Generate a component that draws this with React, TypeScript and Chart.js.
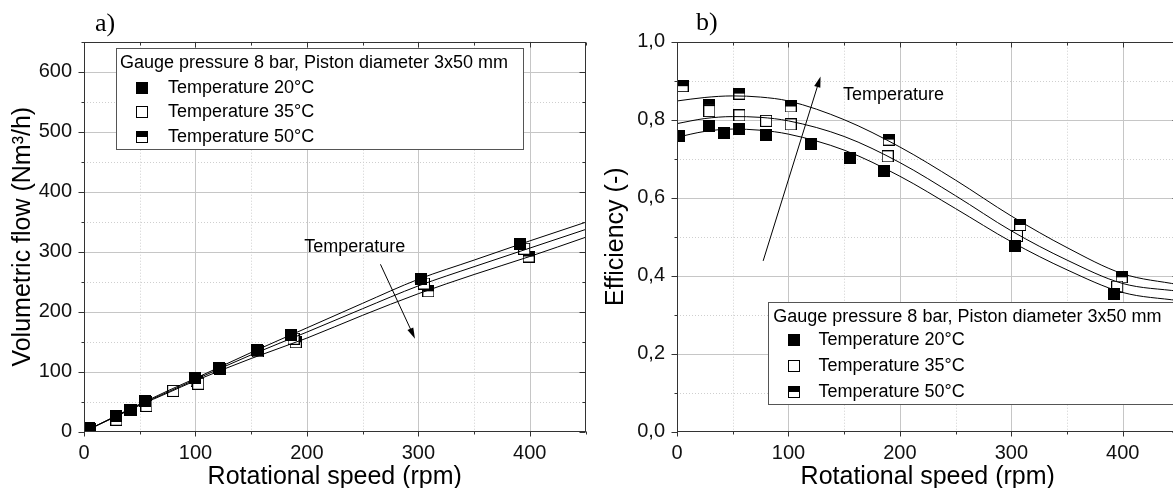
import React, { useEffect, useRef } from 'react';
import { Chart, registerables } from 'chart.js';

Chart.register(...registerables);

const SANS = 'Arial, "Liberation Sans", sans-serif';
const SERIF = '"Times New Roman", "Liberation Serif", serif';

// ---------- Panel a) Volumetric flow (Nm3/h) vs rotational speed (rpm) ----------
const flowX20 = [4.5, 28.5, 41.5, 55, 100, 121, 155, 186, 302, 391];
const flowY20 = [7, 27, 37, 51, 89, 107, 137, 162, 254, 313];
const flowX35 = [29, 56, 80, 102.5, 188, 305, 395];
const flowY35 = [20, 43, 68, 80, 155, 247, 305];
const flowX50 = [5, 42, 55.5, 101, 122, 156, 190, 309, 399];
const flowY50 = [5, 36, 49, 85, 105, 134, 149, 234, 292];

// fitted curves
const fitSpeed = [0, 25, 50, 75, 100, 150, 200, 250, 300, 350, 400, 450];
const flowFit20 = [0, 23, 46, 68, 89, 132, 173, 214, 254, 286, 318, 349];
const flowFit35 = [0, 22.5, 45, 66, 87, 128, 166, 205, 243, 275, 306, 337];
const flowFit50 = [0, 22, 44, 64.5, 85, 122, 156, 194, 230, 262, 292, 324];

// ---------- Panel b) Efficiency (-) vs rotational speed (rpm) ----------
const effX20 = [2, 29, 42, 56, 80, 120, 155, 186, 303, 392];
const effY20 = [0.757, 0.785, 0.766, 0.777, 0.76, 0.737, 0.701, 0.668, 0.476, 0.353];
const effX35 = [29, 56, 80, 102, 189, 305, 395];
const effY35 = [0.822, 0.811, 0.797, 0.788, 0.706, 0.502, 0.372];
const effX50 = [5, 29, 56, 102, 190, 308, 399];
const effY50 = [0.886, 0.838, 0.867, 0.834, 0.749, 0.53, 0.396];

const effFit20 = [0.755, 0.77, 0.776, 0.773, 0.763, 0.722, 0.655, 0.572, 0.487, 0.415, 0.357, 0.336];
const effFit35 = [0.79, 0.803, 0.808, 0.806, 0.797, 0.757, 0.69, 0.605, 0.515, 0.44, 0.38, 0.36];
const effFit50 = [0.848, 0.857, 0.861, 0.858, 0.848, 0.8, 0.73, 0.645, 0.553, 0.472, 0.405, 0.377];

const legendTitle = 'Gauge pressure 8 bar, Piston diameter 3x50 mm';
const seriesNames = ['Temperature 20°C', 'Temperature 35°C', 'Temperature 50°C'];
const arrowLabel = 'Temperature';

type Kind = 'filled' | 'open' | 'half';
const kinds: Kind[] = ['filled', 'open', 'half'];

function makeMarker(kind: Kind): HTMLCanvasElement {
  const s = 12;
  const c = document.createElement('canvas');
  c.width = s;
  c.height = s;
  const g = c.getContext('2d')!;
  g.fillStyle = '#fff';
  g.fillRect(0, 0, s, s);
  g.fillStyle = '#000';
  if (kind === 'filled') g.fillRect(0, 0, s, s);
  if (kind === 'half') g.fillRect(0, 0, s, s / 2);
  g.strokeStyle = '#000';
  g.lineWidth = 1;
  g.strokeRect(0.5, 0.5, s - 1, s - 1);
  return c;
}

interface PanelCfg {
  yMax: number;
  yStep: number;
  yMinor: number;
  yTitle: string;
  fmt: (v: number) => string;
  pts: { xs: number[]; ys: number[] }[];
  fits: number[][];
  legend: { l: number; r: number; t: number; b: number; titleX: number; titleY: number; rows: number[]; markX: number; textX: number };
  arrow: { x1: number; y1: number; x2: number; y2: number };
  label: { x: number; y: number; align: CanvasTextAlign };
  letter: { text: string; x: number; y: number };
}

function drawArrow(ctx: CanvasRenderingContext2D, x1: number, y1: number, x2: number, y2: number) {
  const ang = Math.atan2(y2 - y1, x2 - x1);
  const hl = 11;
  const hw = 3.2;
  ctx.strokeStyle = '#000';
  ctx.lineWidth = 1;
  ctx.beginPath();
  ctx.moveTo(x1, y1);
  ctx.lineTo(x2 - Math.cos(ang) * hl * 0.8, y2 - Math.sin(ang) * hl * 0.8);
  ctx.stroke();
  ctx.fillStyle = '#000';
  ctx.beginPath();
  ctx.moveTo(x2, y2);
  ctx.lineTo(x2 - Math.cos(ang) * hl - Math.sin(ang) * hw, y2 - Math.sin(ang) * hl + Math.cos(ang) * hw);
  ctx.lineTo(x2 - Math.cos(ang) * hl + Math.sin(ang) * hw, y2 - Math.sin(ang) * hl - Math.cos(ang) * hw);
  ctx.closePath();
  ctx.fill();
}

function framePlugin(cfg: PanelCfg, markers: HTMLCanvasElement[]) {
  return {
    id: 'frame',
    beforeDatasetsDraw(chart: any) {
      const { ctx, chartArea: a, scales } = chart;
      const x = scales.x;
      const y = scales.y;
      ctx.save();
      ctx.lineWidth = 1;
      // minor (dotted) grid
      ctx.strokeStyle = '#cfcfcf';
      ctx.setLineDash([1, 2]);
      for (let v = 50; v < 450; v += 100) {
        const px = Math.round(x.getPixelForValue(v)) + 0.5;
        ctx.beginPath();
        ctx.moveTo(px, a.top);
        ctx.lineTo(px, a.bottom);
        ctx.stroke();
      }
      for (let v = cfg.yMinor; v < cfg.yMax - 1e-9; v += cfg.yStep) {
        const py = Math.round(y.getPixelForValue(v)) + 0.5;
        ctx.beginPath();
        ctx.moveTo(a.left, py);
        ctx.lineTo(a.right, py);
        ctx.stroke();
      }
      // major grid
      ctx.setLineDash([]);
      ctx.strokeStyle = '#c6c6c6';
      for (let v = 100; v < 450; v += 100) {
        const px = Math.round(x.getPixelForValue(v)) + 0.5;
        ctx.beginPath();
        ctx.moveTo(px, a.top);
        ctx.lineTo(px, a.bottom);
        ctx.stroke();
      }
      for (let v = cfg.yStep; v < cfg.yMax - 1e-9; v += cfg.yStep) {
        const py = Math.round(y.getPixelForValue(v)) + 0.5;
        ctx.beginPath();
        ctx.moveTo(a.left, py);
        ctx.lineTo(a.right, py);
        ctx.stroke();
      }
      ctx.restore();
    },
    afterDatasetsDraw(chart: any) {
      const { ctx, chartArea: a, scales } = chart;
      const x = scales.x;
      const y = scales.y;
      ctx.save();
      // axes box
      ctx.strokeStyle = '#333';
      ctx.lineWidth = 1;
      const L = Math.round(a.left) + 0.5;
      const R = Math.round(a.right) - 0.5;
      const T = Math.round(a.top) + 0.5;
      const B = Math.round(a.bottom) - 0.5;
      ctx.strokeRect(L, T, R - L, B - T);
      // ticks
      ctx.beginPath();
      for (let v = 0; v <= 450; v += 50) {
        const px = Math.round(x.getPixelForValue(v)) + 0.5;
        const len = v % 100 === 0 ? 5 : 3;
        ctx.moveTo(px, B);
        ctx.lineTo(px, B + len);
        ctx.moveTo(px, T);
        ctx.lineTo(px, T + len);
      }
      const nMinor = Math.round(cfg.yMax / (cfg.yStep / 2));
      for (let i = 0; i <= nMinor; i++) {
        const v = i * (cfg.yStep / 2);
        const py = Math.round(y.getPixelForValue(v)) + 0.5;
        const len = i % 2 === 0 ? 6 : 3;
        ctx.moveTo(L - len, py);
        ctx.lineTo(L, py);
        ctx.moveTo(R - len, py);
        ctx.lineTo(R, py);
      }
      ctx.stroke();

      // arrow + label
      drawArrow(
        ctx,
        x.getPixelForValue(cfg.arrow.x1),
        y.getPixelForValue(cfg.arrow.y1),
        x.getPixelForValue(cfg.arrow.x2),
        y.getPixelForValue(cfg.arrow.y2)
      );
      ctx.fillStyle = '#000';
      ctx.font = `18px ${SANS}`;
      ctx.textAlign = cfg.label.align;
      ctx.textBaseline = 'middle';
      ctx.fillText(arrowLabel, x.getPixelForValue(cfg.label.x), y.getPixelForValue(cfg.label.y));

      // legend box
      const lg = cfg.legend;
      const bl = Math.round(x.getPixelForValue(lg.l)) + 0.5;
      const br = Math.round(x.getPixelForValue(lg.r)) + 0.5;
      const bt = Math.round(y.getPixelForValue(lg.t)) + 0.5;
      const bb = Math.round(y.getPixelForValue(lg.b)) + 0.5;
      ctx.fillStyle = '#fff';
      ctx.fillRect(bl, bt, br - bl, bb - bt);
      ctx.strokeStyle = '#555';
      ctx.strokeRect(bl, bt, br - bl, bb - bt);
      ctx.fillStyle = '#000';
      ctx.textAlign = 'left';
      ctx.textBaseline = 'middle';
      ctx.font = `18px ${SANS}`;
      ctx.fillText(legendTitle, x.getPixelForValue(lg.titleX), y.getPixelForValue(lg.titleY));
      lg.rows.forEach((rv, i) => {
        const ry = y.getPixelForValue(rv);
        const mx = x.getPixelForValue(lg.markX);
        ctx.drawImage(markers[i], Math.round(mx - 6), Math.round(ry - 6));
        ctx.fillText(seriesNames[i], x.getPixelForValue(lg.textX), ry);
      });

      // panel letter
      ctx.font = `26px ${SERIF}`;
      ctx.textBaseline = 'alphabetic';
      ctx.fillText(cfg.letter.text, cfg.letter.x, cfg.letter.y);
      ctx.restore();
    },
  };
}

function Panel({ cfg, left }: { cfg: PanelCfg; left: number }) {
  const ref = useRef<HTMLCanvasElement>(null);
  useEffect(() => {
    const markers = kinds.map(makeMarker);
    const datasets: any[] = [];
    cfg.fits.forEach((f) => {
      datasets.push({
        data: fitSpeed.map((s, i) => ({ x: s, y: f[i] })),
        showLine: true,
        borderColor: '#000',
        borderWidth: 1,
        pointRadius: 0,
        cubicInterpolationMode: 'monotone',
        fill: false,
      });
    });
    cfg.pts.forEach((p, k) => {
      datasets.push({
        data: p.xs.map((s, i) => ({ x: s, y: p.ys[i] })),
        showLine: false,
        pointStyle: markers[k],
        pointRadius: 6,
      });
    });
    const chart = new Chart(ref.current!, {
      type: 'scatter',
      data: { datasets },
      options: {
        animation: false,
        responsive: false,
        maintainAspectRatio: false,
        layout: { padding: { top: 41.7, right: 14.5, left: 0, bottom: 0 } },
        plugins: { legend: { display: false }, tooltip: { enabled: false } },
        scales: {
          x: {
            type: 'linear',
            min: 0,
            max: 450,
            ticks: {
              stepSize: 100,
              autoSkip: false,
              maxRotation: 0,
              padding: 10,
              color: '#111',
              font: { family: SANS, size: 20 },
              callback: (v: any) => (Number(v) % 100 === 0 ? String(v) : ''),
            },
            grid: { display: false, drawTicks: false },
            border: { display: false },
            title: {
              display: true,
              text: 'Rotational speed (rpm)',
              color: '#000',
              font: { family: SANS, size: 25, lineHeight: 0.9 },
              padding: { top: 0, bottom: 0 },
            },
            afterFit: (s: any) => {
              s.height = 56.3;
            },
          },
          y: {
            type: 'linear',
            min: 0,
            max: cfg.yMax,
            ticks: {
              stepSize: cfg.yStep,
              autoSkip: false,
              padding: 12,
              color: '#111',
              font: { family: SANS, size: 20 },
              callback: (v: any) => cfg.fmt(Number(v)),
            },
            grid: { display: false, drawTicks: false },
            border: { display: false },
            title: {
              display: true,
              text: cfg.yTitle,
              color: '#000',
              font: { family: SANS, size: 25, lineHeight: 1.2 },
              padding: { top: 8, bottom: 0 },
            },
            afterFit: (s: any) => {
              s.width = 84;
            },
          },
        },
      },
      plugins: [framePlugin(cfg, markers)],
    });
    return () => chart.destroy();
  }, [cfg]);
  return (
    <canvas
      ref={ref}
      width={600}
      height={488}
      style={{ position: 'absolute', left, top: 0, width: 600, height: 488 }}
    />
  );
}

const flowCfg: PanelCfg = {
  yMax: 650,
  yStep: 100,
  yMinor: 50,
  yTitle: 'Volumetric flow (Nm³/h)',
  fmt: (v) => (Math.abs(v % 100) < 1e-6 && v <= 600 ? String(v) : ''),
  pts: [
    { xs: flowX20, ys: flowY20 },
    { xs: flowX35, ys: flowY35 },
    { xs: flowX50, ys: flowY50 },
  ],
  fits: [flowFit20, flowFit35, flowFit50],
  legend: { l: 29, r: 394, t: 638.7, b: 470.7, titleX: 32.2, titleY: 615, rows: [572.4, 532.6, 491.5], markX: 52, textX: 75.4 },
  arrow: { x1: 266, y1: 279, x2: 297, y2: 155 },
  label: { x: 243, y: 308, align: 'center' },
  letter: { text: 'a)', x: 95, y: 31 },
};

const effCfg: PanelCfg = {
  yMax: 1.0,
  yStep: 0.2,
  yMinor: 0.1,
  yTitle: 'Efficiency (-)',
  fmt: (v) => {
    const r = Math.round(v * 10);
    return r % 2 === 0 ? (r / 10).toFixed(1).replace('.', ',') : '';
  },
  pts: [
    { xs: effX20, ys: effY20 },
    { xs: effX35, ys: effY35 },
    { xs: effX50, ys: effY50 },
  ],
  fits: [effFit20, effFit35, effFit50],
  legend: { l: 82, r: 460, t: 0.3336, b: 0.0723, titleX: 86.4, titleY: 0.2953, rows: [0.2357, 0.1677, 0.1021], markX: 105, textX: 127 },
  arrow: { x1: 77.3, y1: 0.438, x2: 128.8, y2: 0.911 },
  label: { x: 149, y: 0.862, align: 'left' },
  letter: { text: 'b)', x: 103, y: 30 },
};

export default function App() {
  return (
    <div
      style={{
        position: 'fixed',
        left: 0,
        top: 0,
        width: 1173,
        height: 488,
        overflow: 'hidden',
        background: '#fff',
      }}
    >
      <Panel cfg={flowCfg} left={0} />
      <Panel cfg={effCfg} left={593} />
    </div>
  );
}
